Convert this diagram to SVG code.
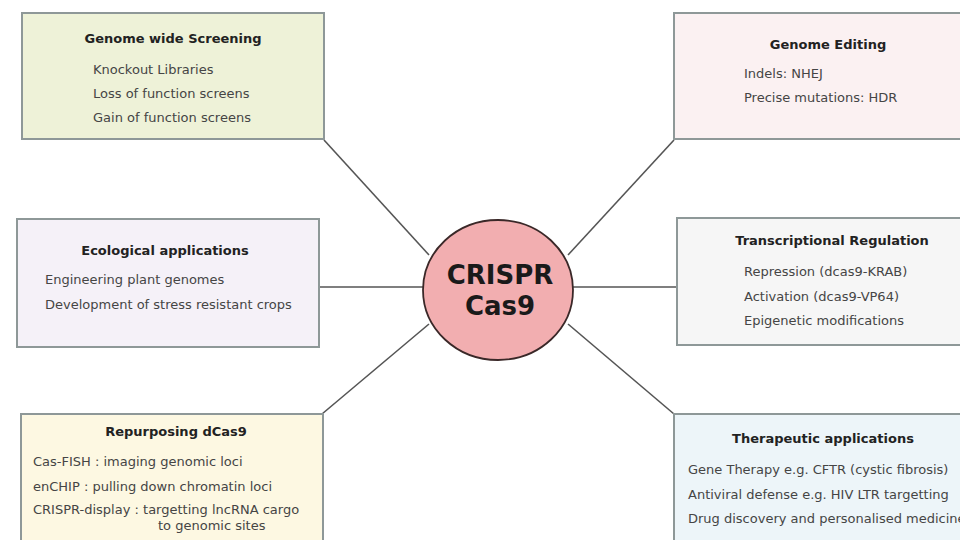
<svg xmlns="http://www.w3.org/2000/svg" width="960" height="540" viewBox="0 0 960 540">
  <style>
    .box { stroke: #8e9898; stroke-width: 2; }
    .title { font-family: "DejaVu Sans", Verdana, sans-serif; font-size: 13px; font-weight: bold; fill: #222; text-anchor: middle; }
    .item { font-family: "DejaVu Sans", Verdana, sans-serif; font-size: 13px; fill: #454545; }
    .link { stroke: #555; stroke-width: 1.6; fill: none; }
    .hub { fill: #f2aeb0; stroke: #3a2828; stroke-width: 1.8; }
    .hubtext { font-family: "DejaVu Sans", Verdana, sans-serif; font-size: 26px; font-weight: bold; fill: #1a1a1a; text-anchor: middle; }
  </style>
  <rect width="960" height="540" fill="#ffffff"/>

  <g id="connectors">
    <line class="link" x1="324" y1="140" x2="429" y2="255"/>
    <line class="link" x1="320" y1="287" x2="423" y2="287"/>
    <line class="link" x1="322" y1="414" x2="429" y2="324"/>
    <line class="link" x1="674" y1="140" x2="568" y2="255"/>
    <line class="link" x1="677" y1="287" x2="573" y2="287"/>
    <line class="link" x1="674" y1="414" x2="568" y2="324"/>
  </g>

  <g id="hub">
    <ellipse class="hub" cx="498" cy="290" rx="75" ry="70"/>
    <text class="hubtext" x="500" y="284">CRISPR</text>
    <text class="hubtext" x="500" y="315">Cas9</text>
  </g>

  <g id="genome-screening">
    <rect class="box" x="22" y="13" width="302" height="126" fill="#eef2d8"/>
    <text class="title" x="173" y="43">Genome wide Screening</text>
    <text class="item" x="93" y="74">Knockout Libraries</text>
    <text class="item" x="93" y="98">Loss of function screens</text>
    <text class="item" x="93" y="122">Gain of function screens</text>
  </g>

  <g id="genome-editing">
    <rect class="box" x="674" y="13" width="300" height="126" fill="#fbf1f2"/>
    <text class="title" x="828" y="49">Genome Editing</text>
    <text class="item" x="744" y="78">Indels: NHEJ</text>
    <text class="item" x="744" y="102">Precise mutations: HDR</text>
  </g>

  <g id="ecological">
    <rect class="box" x="17" y="219" width="302" height="128" fill="#f5f1f8"/>
    <text class="title" x="165" y="255">Ecological applications</text>
    <text class="item" x="45" y="284">Engineering plant genomes</text>
    <text class="item" x="45" y="309">Development of stress resistant crops</text>
  </g>

  <g id="transcriptional">
    <rect class="box" x="677" y="218" width="300" height="127" fill="#f6f6f6"/>
    <text class="title" x="832" y="245">Transcriptional Regulation</text>
    <text class="item" x="744" y="276">Repression (dcas9-KRAB)</text>
    <text class="item" x="744" y="301">Activation (dcas9-VP64)</text>
    <text class="item" x="744" y="325">Epigenetic modifications</text>
  </g>

  <g id="repurposing">
    <rect class="box" x="21" y="414" width="302" height="140" fill="#fdf8e2"/>
    <text class="title" x="176" y="436">Repurposing dCas9</text>
    <text class="item" x="33" y="466">Cas-FISH : imaging genomic loci</text>
    <text class="item" x="33" y="491">enCHIP : pulling down chromatin loci</text>
    <text class="item" x="33" y="514">CRISPR-display : targetting lncRNA cargo</text>
    <text class="item" x="158" y="530">to genomic sites</text>
  </g>

  <g id="therapeutic">
    <rect class="box" x="674" y="414" width="300" height="140" fill="#edf5f9"/>
    <text class="title" x="823" y="443">Therapeutic applications</text>
    <text class="item" x="688" y="474">Gene Therapy e.g. CFTR (cystic fibrosis)</text>
    <text class="item" x="688" y="499">Antiviral defense e.g. HIV LTR targetting</text>
    <text class="item" x="688" y="523">Drug discovery and personalised medicine</text>
  </g>
</svg>
